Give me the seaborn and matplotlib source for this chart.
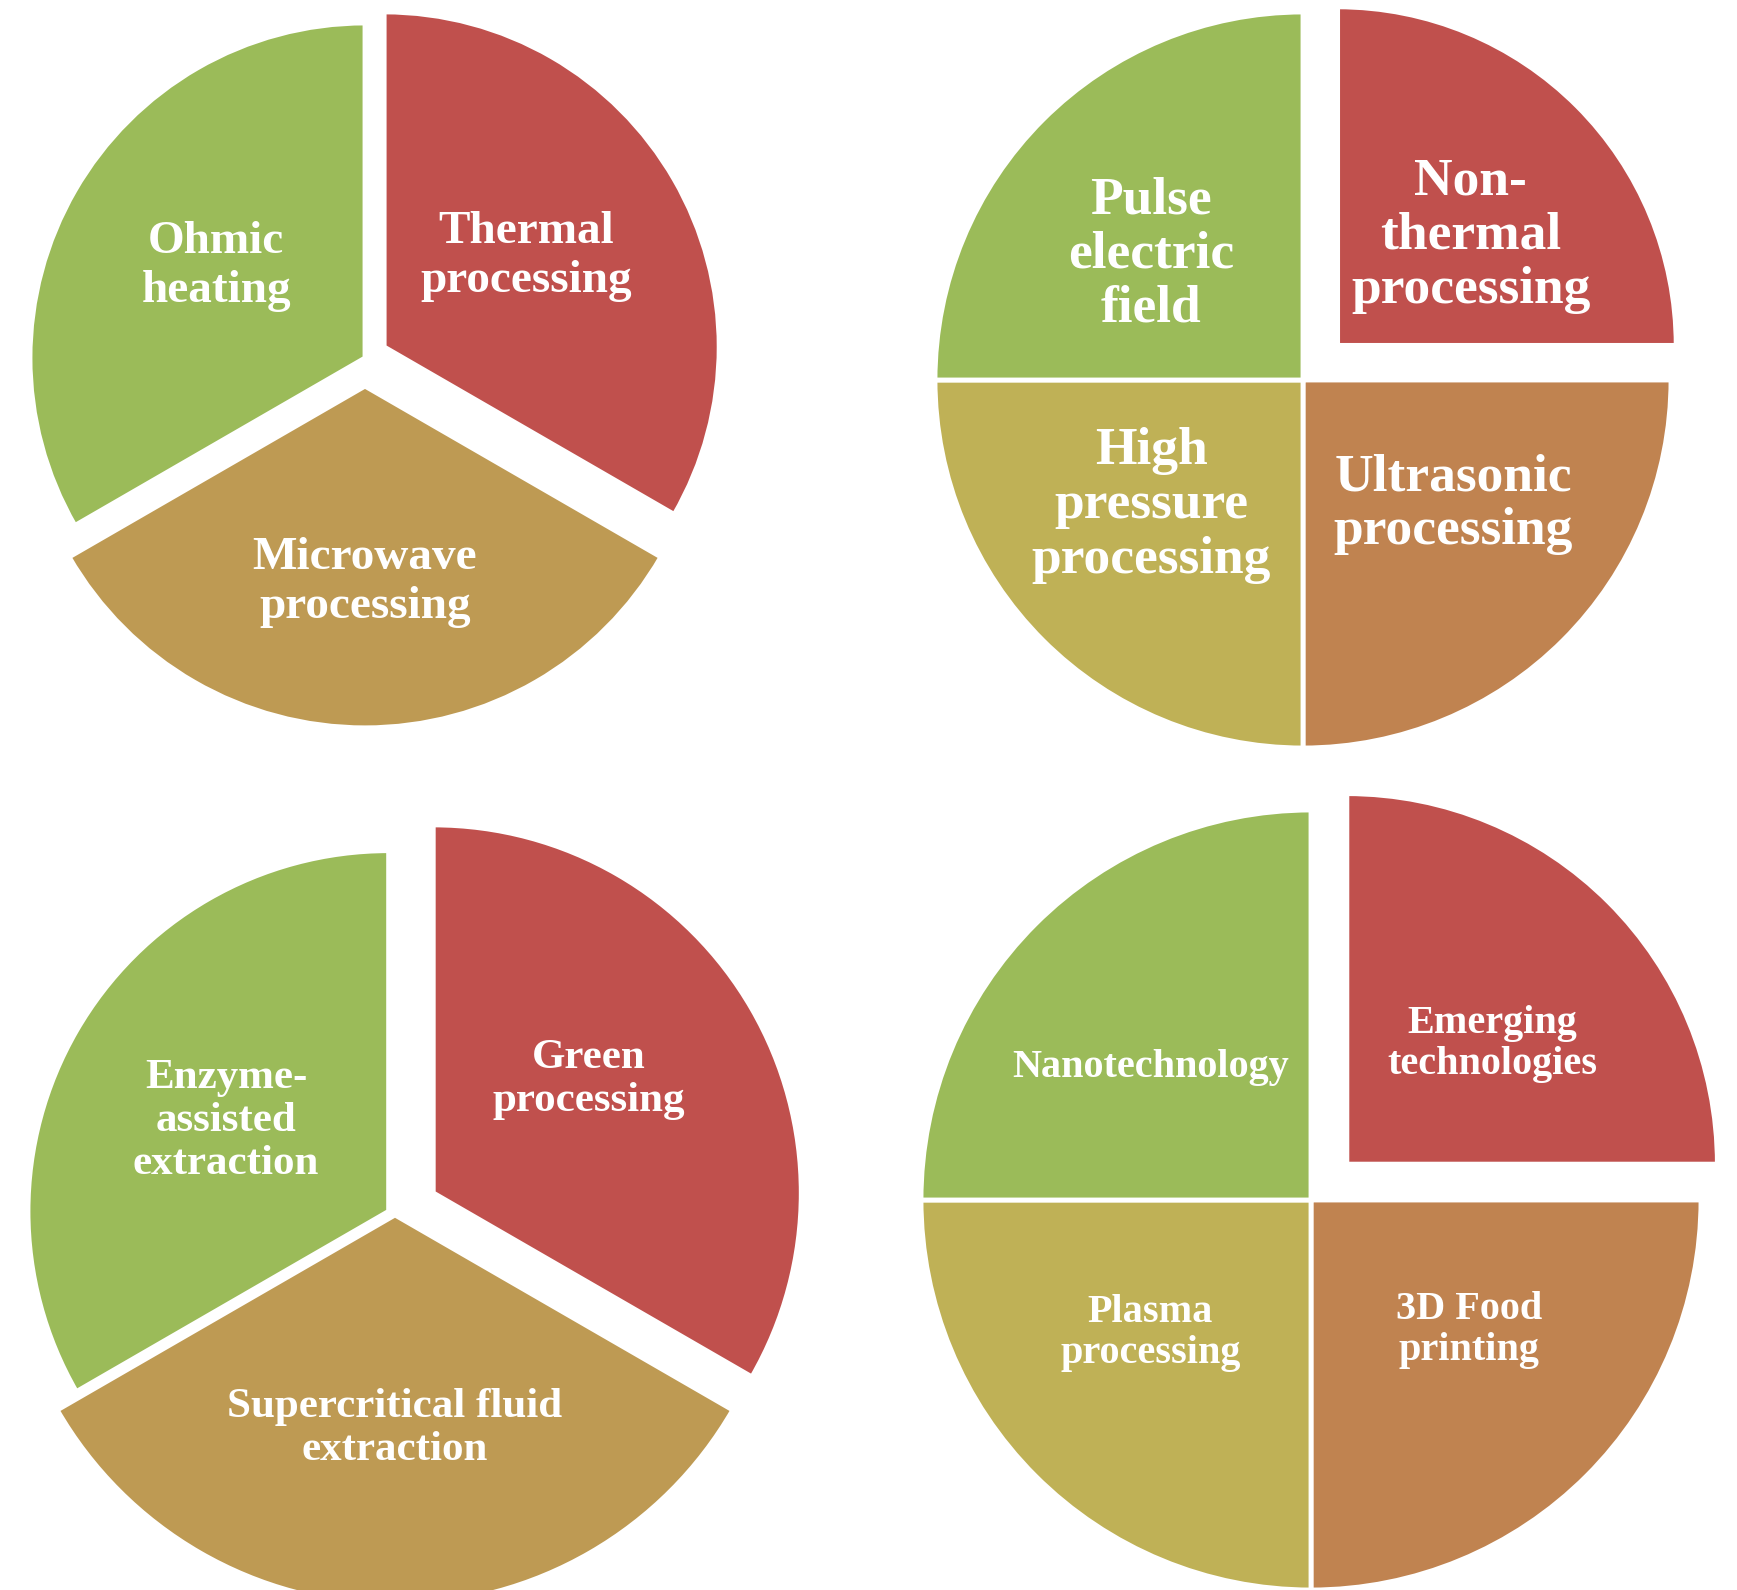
import numpy as np
import matplotlib.pyplot as plt
import seaborn as sns

## 데이터 (각 조각은 같은 비중)
thermal_labels = ['Thermal\nprocessing', 'Microwave\nprocessing', 'Ohmic\nheating']
thermal_values = [1, 1, 1]

nonthermal_labels = ['Non-\nthermal\nprocessing', 'Ultrasonic\nprocessing',
                     'High\npressure\nprocessing', 'Pulse\nelectric\nfield']
nonthermal_values = [1, 1, 1, 1]

green_labels = ['Green\nprocessing', 'Supercritical fluid\nextraction',
                'Enzyme-\nassisted\nextraction']
green_values = [1, 1, 1]

emerging_labels = ['Emerging\ntechnologies', '3D Food\nprinting',
                   'Plasma\nprocessing', 'Nanotechnology']
emerging_values = [1, 1, 1, 1]

# 색상
red, green, tan, olive, brown = '#C0504D', '#9BBB59', '#BE9A53', '#BFB156', '#C08350'
colors3 = [red, tan, green]
colors4 = [red, brown, olive, green]

## 스타일
sns.set_style('white')
plt.rcParams['font.family'] = ['Liberation Serif', 'DejaVu Serif']

W, H = 1737, 1590
fig = plt.figure(figsize=(W / 100, H / 100), dpi=100)
ax = fig.add_axes([0, 0, 1, 1])

# 파이별 레이아웃: 중심, 반지름, 폭발비율, 조각별 반지름 배율, 라벨거리, 라벨 가로/세로 비, 글자크기, 줄간격
pies = [
    dict(values=thermal_values, labels=thermal_labels, colors=colors3,
         center=(365, H - 358), r=335, expl=[0.066, 0.084, 0.0],
         scale=[1.0, 1.02, 1.0], dist=[0.513, 0.585, 0.53],
         stretch=[0.955, 1.0, 0.967], fs=34, ls=1.22),
    dict(values=nonthermal_values, labels=nonthermal_labels, colors=colors4,
         center=(1303, H - 380), r=368, expl=[0.133, 0, 0, 0],
         scale=[0.92, 1, 1, 1], dist=[0.465, 0.525, 0.53, 0.53],
         stretch=[1.1, 1.1, 1.1, 1.1], fs=38.5, ls=1.17),
    dict(values=green_values, labels=green_labels, colors=colors3,
         center=(395, H - 1215), r=368, expl=[0.12, 0.0, 0.02],
         scale=[1.0, 1.06, 0.98], dist=[0.55, 0.58, 0.50],
         stretch=[0.89, 1.0, 1.02], fs=31, ls=1.17),
    dict(values=emerging_values, labels=emerging_labels, colors=colors4,
         center=(1311, H - 1200), r=390, expl=[0.13, 0, 0, 0],
         scale=[0.95, 1, 1, 1], dist=[0.48, 0.52, 0.53, 0.53],
         stretch=[1.1, 1.1, 1.1, 1.1], fs=29, ls=1.15),
]

for p in pies:
    r = p['r']
    wedges, _ = ax.pie(p['values'],
                       colors=p['colors'],
                       startangle=90,
                       counterclock=False,
                       center=p['center'],
                       radius=r,
                       explode=[e * r for e in p['expl']],
                       frame=True,
                       wedgeprops=dict(edgecolor='white', linewidth=3.5))
    for w, lab, d, s, k in zip(wedges, p['labels'], p['dist'], p['scale'], p['stretch']):
        w.set_radius(r * s)
        th = np.deg2rad((w.theta1 + w.theta2) / 2)
        cx, cy = w.center
        ax.text(cx + d * r * np.cos(th) * k,
                cy + d * r * np.sin(th) / k, lab,
                ha='center', va='center', color='white',
                fontsize=p['fs'], fontweight='bold', linespacing=p['ls'])

ax.set_xlim(0, W)
ax.set_ylim(0, H)
ax.set_aspect('equal')
ax.axis('off')

fig.savefig('out.png', dpi=100, facecolor='white')
